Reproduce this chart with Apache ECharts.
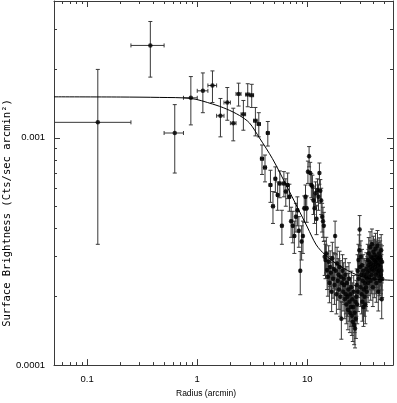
<!DOCTYPE html>
<html>
<head>
<meta charset="utf-8">
<script src="https://cdn.jsdelivr.net/npm/echarts@6/dist/echarts.min.js"></script>
<style>
    html, body { margin: 0; padding: 0; background: #fff; }
    #chart { width: 397px; height: 403px; }
</style>
</head>
<body>
<div id="chart"></div>
<script>
// radial profile, 0.25 arcmin bins
var radius = [
    0.125, 0.375, 0.625, 0.875, 1.125, 1.375, 1.625, 1.875,
    2.125, 2.375, 2.625, 2.875, 3.125, 3.375, 3.625, 3.875,
    4.125, 4.375, 4.625, 4.875, 5.125, 5.375, 5.625, 5.875,
    6.125, 6.375, 6.625, 6.875, 7.125, 7.375, 7.625, 7.875,
    8.125, 8.375, 8.625, 8.875, 9.125, 9.375, 9.625, 9.875,
    10.125, 10.375, 10.625, 10.875, 11.125, 11.375, 11.625, 11.875,
    12.125, 12.375, 12.625, 12.875, 13.125, 13.375, 13.625, 13.875,
    14.125, 14.375, 14.625, 14.875, 15.125, 15.375, 15.625, 15.875,
    16.125, 16.375, 16.625, 16.875, 17.125, 17.375, 17.625, 17.875,
    18.125, 18.375, 18.625, 18.875, 19.125, 19.375, 19.625, 19.875,
    20.125, 20.375, 20.625, 20.875, 21.125, 21.375, 21.625, 21.875,
    22.125, 22.375, 22.625, 22.875, 23.125, 23.375, 23.625, 23.875,
    24.125, 24.375, 24.625, 24.875, 25.125, 25.375, 25.625, 25.875,
    26.125, 26.375, 26.625, 26.875, 27.125, 27.375, 27.625, 27.875,
    28.125, 28.375, 28.625, 28.875, 29.125, 29.375, 29.625, 29.875,
    30.125, 30.375, 30.625, 30.875, 31.125, 31.375, 31.625, 31.875,
    32.125, 32.375, 32.625, 32.875, 33.125, 33.375, 33.625, 33.875,
    34.125, 34.375, 34.625, 34.875, 35.125, 35.375, 35.625, 35.875,
    36.125, 36.375, 36.625, 36.875, 37.125, 37.375, 37.625, 37.875,
    38.125, 38.375, 38.625, 38.875, 39.125, 39.375, 39.625, 39.875,
    40.125, 40.375, 40.625, 40.875, 41.125, 41.375, 41.625, 41.875,
    42.125, 42.375, 42.625, 42.875, 43.125, 43.375, 43.625, 43.875,
    44.125, 44.375, 44.625, 44.875, 45.125, 45.375, 45.625, 45.875,
    46.125, 46.375, 46.625, 46.875, 47.125, 47.375, 47.625, 47.875
];

var brightness = [
    11.7e-4, 25.5e-4, 10.5e-4, 15.0e-4, 16.1e-4, 17.0e-4, 12.5e-4, 14.3e-4,
    11.6e-4, 15.6e-4, 12.7e-4, 15.5e-4, 15.4e-4, 11.9e-4, 11.5e-4, 8.1e-4,
    7.4e-4, 10.5e-4, 6.2e-4, 5.0e-4, 6.6e-4, 5.6e-4, 6.3e-4, 4.1e-4,
    6.3e-4, 5.8e-4, 6.2e-4, 5.5e-4, 4.3e-4, 4.1e-4, 3.7e-4, 4.5e-4,
    4.8e-4, 3.9e-4, 2.6e-4, 3.5e-4, 3.7e-4, 4.9e-4, 5.5e-4, 4.9e-4,
    7.1e-4, 8.3e-4, 7.0e-4, 6.2e-4, 6.1e-4, 5.3e-4, 4.9e-4, 5.7e-4,
    4.4e-4, 5.9e-4, 5.5e-4, 7.0e-4, 5.85e-4, 5.3e-4, 4.5e-4, 4.3e-4,
    4.1e-4, 3.0e-4, 2.9e-4, 3.1e-4, 2.62e-4, 2.45e-4, 2.85e-4, 2.3e-4,
    2.7e-4, 2.55e-4, 2.1e-4, 2.95e-4, 2.4e-4, 2.65e-4, 2.25e-4, 3.7e-4,
    2.6e-4, 2.05e-4, 2.8e-4, 2.35e-4, 2.5e-4, 2.15e-4, 2.7e-4, 2.0e-4,
    2.45e-4, 1.6e-4, 2.3e-4, 2.6e-4, 2.1e-4, 2.4e-4, 2.25e-4, 1.95e-4,
    2.5e-4, 2.05e-4, 1.85e-4, 2.3e-4, 2.0e-4, 1.75e-4, 2.15e-4, 2.4e-4,
    1.9e-4, 1.7e-4, 2.05e-4, 1.8e-4, 2.2e-4, 1.65e-4, 1.95e-4, 1.55e-4,
    1.8e-4, 2.1e-4, 1.5e-4, 1.7e-4, 1.45e-4, 1.9e-4, 1.6e-4, 2.0e-4,
    2.25e-4, 1.85e-4, 2.6e-4, 2.1e-4, 2.9e-4, 2.4e-4, 3.2e-4, 3.95e-4,
    2.7e-4, 2.2e-4, 3.0e-4, 2.5e-4, 2.05e-4, 2.75e-4, 1.9e-4, 2.35e-4,
    2.6e-4, 1.8e-4, 2.15e-4, 2.5e-4, 2.0e-4, 2.3e-4, 1.85e-4, 2.45e-4,
    2.2e-4, 2.65e-4, 2.1e-4, 2.4e-4, 2.55e-4, 2.9e-4, 2.3e-4, 2.75e-4,
    3.1e-4, 2.45e-4, 2.85e-4, 2.6e-4, 3.3e-4, 2.7e-4, 2.35e-4, 3.0e-4,
    2.8e-4, 2.5e-4, 3.4e-4, 2.65e-4, 2.95e-4, 2.2e-4, 2.75e-4, 3.15e-4,
    2.6e-4, 2.9e-4, 2.4e-4, 3.05e-4, 2.7e-4, 2.85e-4, 3.25e-4, 2.5e-4,
    2.8e-4, 2.3e-4, 3.0e-4, 2.65e-4, 2.9e-4, 3.35e-4, 2.55e-4, 2.75e-4,
    2.1e-4, 2.95e-4, 2.6e-4, 3.1e-4, 2.45e-4, 2.8e-4, 2.35e-4, 3.0e-4,
    2.7e-4, 2.9e-4, 2.5e-4, 3.2e-4, 2.6e-4, 1.95e-4, 2.85e-4, 2.4e-4
];

var brightnessErr = [
    8.3e-4, 7.0e-4, 3.5e-4, 3.6e-4, 3.2e-4, 2.7e-4, 2.4e-4, 2.35e-4,
    1.9e-4, 1.8e-4, 1.9e-4, 1.8e-4, 1.8e-4, 1.7e-4, 1.4e-4, 1.2e-4,
    1.0e-4, 1.3e-4, 1.0e-4, 0.8e-4, 0.85e-4, 0.8e-4, 0.85e-4, 0.7e-4,
    0.8e-4, 0.8e-4, 0.8e-4, 0.75e-4, 0.65e-4, 0.65e-4, 0.6e-4, 0.65e-4,
    0.7e-4, 0.6e-4, 0.56e-4, 0.6e-4, 0.6e-4, 0.65e-4, 0.7e-4, 0.65e-4,
    0.8e-4, 0.85e-4, 0.8e-4, 0.75e-4, 0.75e-4, 0.7e-4, 0.7e-4, 0.7e-4,
    0.65e-4, 0.7e-4, 0.7e-4, 0.75e-4, 0.7e-4, 0.7e-4, 0.65e-4, 0.65e-4,
    0.6e-4, 0.52e-4, 0.5e-4, 0.55e-4, 0.47e-4, 0.44e-4, 0.5e-4, 0.42e-4,
    0.48e-4, 0.45e-4, 0.38e-4, 0.52e-4, 0.43e-4, 0.47e-4, 0.4e-4, 0.6e-4,
    0.46e-4, 0.37e-4, 0.5e-4, 0.42e-4, 0.44e-4, 0.39e-4, 0.47e-4, 0.36e-4,
    0.43e-4, 0.3e-4, 0.41e-4, 0.46e-4, 0.37e-4, 0.42e-4, 0.4e-4, 0.35e-4,
    0.44e-4, 0.37e-4, 0.33e-4, 0.41e-4, 0.36e-4, 0.32e-4, 0.38e-4, 0.42e-4,
    0.34e-4, 0.31e-4, 0.37e-4, 0.32e-4, 0.39e-4, 0.3e-4, 0.35e-4, 0.28e-4,
    0.32e-4, 0.38e-4, 0.27e-4, 0.31e-4, 0.26e-4, 0.34e-4, 0.29e-4, 0.36e-4,
    0.4e-4, 0.33e-4, 0.46e-4, 0.38e-4, 0.5e-4, 0.42e-4, 0.54e-4, 0.6e-4,
    0.47e-4, 0.39e-4, 0.52e-4, 0.44e-4, 0.37e-4, 0.48e-4, 0.34e-4, 0.42e-4,
    0.46e-4, 0.32e-4, 0.38e-4, 0.44e-4, 0.36e-4, 0.41e-4, 0.33e-4, 0.43e-4,
    0.39e-4, 0.47e-4, 0.37e-4, 0.42e-4, 0.45e-4, 0.5e-4, 0.41e-4, 0.48e-4,
    0.54e-4, 0.43e-4, 0.5e-4, 0.46e-4, 0.56e-4, 0.47e-4, 0.42e-4, 0.52e-4,
    0.49e-4, 0.44e-4, 0.57e-4, 0.46e-4, 0.51e-4, 0.39e-4, 0.48e-4, 0.54e-4,
    0.46e-4, 0.5e-4, 0.42e-4, 0.53e-4, 0.47e-4, 0.5e-4, 0.55e-4, 0.44e-4,
    0.49e-4, 0.41e-4, 0.52e-4, 0.46e-4, 0.5e-4, 0.56e-4, 0.45e-4, 0.48e-4,
    0.37e-4, 0.51e-4, 0.46e-4, 0.53e-4, 0.43e-4, 0.49e-4, 0.41e-4, 0.52e-4,
    0.47e-4, 0.5e-4, 0.44e-4, 0.55e-4, 0.46e-4, 0.35e-4, 0.5e-4, 0.42e-4
];

var binHalfWidth = 0.125;

// fitted model
var fitRadius = [0.05, 0.2, 0.456, 0.871, 1.379, 1.846, 2.421, 2.98, 3.67, 4.82, 6.45, 8.12, 10.0, 12.06, 14.57, 19.5, 27.8, 38, 60];
var fitBrightness = [15.15e-4, 15.12e-4, 15.06e-4, 14.91e-4, 14.08e-4, 13.39e-4, 12.54e-4, 11.63e-4, 10.0e-4, 8.1e-4, 6.17e-4, 4.95e-4, 4.05e-4, 3.38e-4, 3.05e-4, 2.74e-4, 2.5e-4, 2.4e-4, 2.36e-4];

var xRange = [0.05, 60];
var yRange = [0.0001, 0.004];
var xMajorTicks = [0.1, 1, 10];
var xMinorTicks = [0.06, 0.07, 0.08, 0.09, 0.2, 0.3, 0.4, 0.5, 0.6, 0.7, 0.8, 0.9,
    2, 3, 4, 5, 6, 7, 8, 9, 20, 30, 40, 50, 60];
var yMajorTicks = [0.0001, 0.001];
var yMinorTicks = [0.0002, 0.0003, 0.0004, 0.0005, 0.0006, 0.0007, 0.0008, 0.0009, 0.002, 0.003, 0.004];

var axisColor = '#3a3a3a';
var labelFont = "'Liberation Sans', Arial, Helvetica, sans-serif";

function logAxis(position, range, ticks, tickLength, withLine, withLabels) {
    return {
        type: 'log',
        logBase: 10,
        position: position,
        min: range[0],
        max: range[1],
        axisLine: {
            show: withLine,
            lineStyle: { color: axisColor, width: 1 }
        },
        axisTick: {
            show: true,
            inside: true,
            length: tickLength,
            customValues: ticks,
            lineStyle: { color: axisColor, width: 1 }
        },
        axisLabel: {
            show: withLabels,
            customValues: ticks,
            margin: 9,
            color: '#000',
            fontSize: 9.5,
            fontFamily: labelFont,
            formatter: function (v) {
                return String(Number(v.toPrecision(6)));
            }
        },
        splitLine: { show: false },
        minorTick: { show: false }
    };
}

var chart = echarts.init(document.getElementById('chart'));

var xBottom = logAxis('bottom', xRange, xMajorTicks, 6, true, true);
xBottom.name = 'Radius (arcmin)';
xBottom.nameLocation = 'middle';
xBottom.nameGap = 22;
xBottom.nameTextStyle = {
    color: '#000',
    fontSize: 8.5,
    fontFamily: labelFont,
    padding: [0, 35, 0, 0]
};

var points = radius.map(function (r, i) {
    return [r, brightness[i], brightnessErr[i]];
});

var option = {
    animation: false,
    backgroundColor: '#fff',
    grid: {
        left: 54,
        right: 4,
        top: 1,
        bottom: 35
    },
    xAxis: [
        xBottom,
        logAxis('bottom', xRange, xMinorTicks, 3, false, false),
        logAxis('top', xRange, xMajorTicks, 6, true, false),
        logAxis('top', xRange, xMinorTicks, 3, false, false)
    ],
    yAxis: [
        logAxis('left', yRange, yMajorTicks, 6, true, true),
        logAxis('left', yRange, yMinorTicks, 3, false, false),
        logAxis('right', yRange, yMajorTicks, 6, true, false),
        logAxis('right', yRange, yMinorTicks, 3, false, false)
    ],
    graphic: [{
        type: 'text',
        x: 7,
        y: 213,
        rotation: Math.PI / 2,
        style: {
            text: 'Surface Brightness (Cts/sec arcmin\u00b2)',
            fill: '#000',
            font: "10.5px 'DejaVu Sans Mono', monospace",
            textAlign: 'center',
            textVerticalAlign: 'middle'
        }
    }],
    series: [
        {
            name: 'errors',
            type: 'custom',
            xAxisIndex: 0,
            yAxisIndex: 0,
            clip: true,
            data: points,
            encode: { x: 0, y: 1 },
            renderItem: function (params, api) {
                var r = api.value(0);
                var s = api.value(1);
                var e = api.value(2);
                var cap = 2;
                var mid = api.coord([r, s]);
                var top = api.coord([r, s + e]);
                var bot = api.coord([r, Math.max(s - e, yRange[0] * 0.01)]);
                var leftVal = r - binHalfWidth;
                var clipped = leftVal < xRange[0];
                var left = api.coord([clipped ? xRange[0] * 0.5 : leftVal, s]);
                var right = api.coord([r + binHalfWidth, s]);
                var style = { stroke: '#383838', lineWidth: 1 };
                var lines = [
                    [mid[0], top[1], mid[0], bot[1]],
                    [mid[0] - cap, top[1], mid[0] + cap, top[1]],
                    [mid[0] - cap, bot[1], mid[0] + cap, bot[1]],
                    [left[0], mid[1], right[0], mid[1]],
                    [right[0], mid[1] - cap, right[0], mid[1] + cap]
                ];
                if (!clipped) {
                    lines.push([left[0], mid[1] - cap, left[0], mid[1] + cap]);
                }
                return {
                    type: 'group',
                    children: lines.map(function (l) {
                        return {
                            type: 'line',
                            shape: { x1: l[0], y1: l[1], x2: l[2], y2: l[3] },
                            style: style
                        };
                    })
                };
            },
            z: 2
        },
        {
            name: 'fit',
            type: 'line',
            xAxisIndex: 0,
            yAxisIndex: 0,
            data: fitRadius.map(function (r, i) {
                return [r, fitBrightness[i]];
            }),
            showSymbol: false,
            smooth: 0.3,
            lineStyle: { color: '#000', width: 1 },
            z: 3
        },
        {
            name: 'profile',
            type: 'scatter',
            xAxisIndex: 0,
            yAxisIndex: 0,
            data: points.map(function (p) {
                return [p[0], p[1]];
            }),
            symbol: 'circle',
            symbolSize: 4.5,
            itemStyle: { color: '#000' },
            z: 4
        }
    ]
};

chart.setOption(option);
</script>
</body>
</html>
